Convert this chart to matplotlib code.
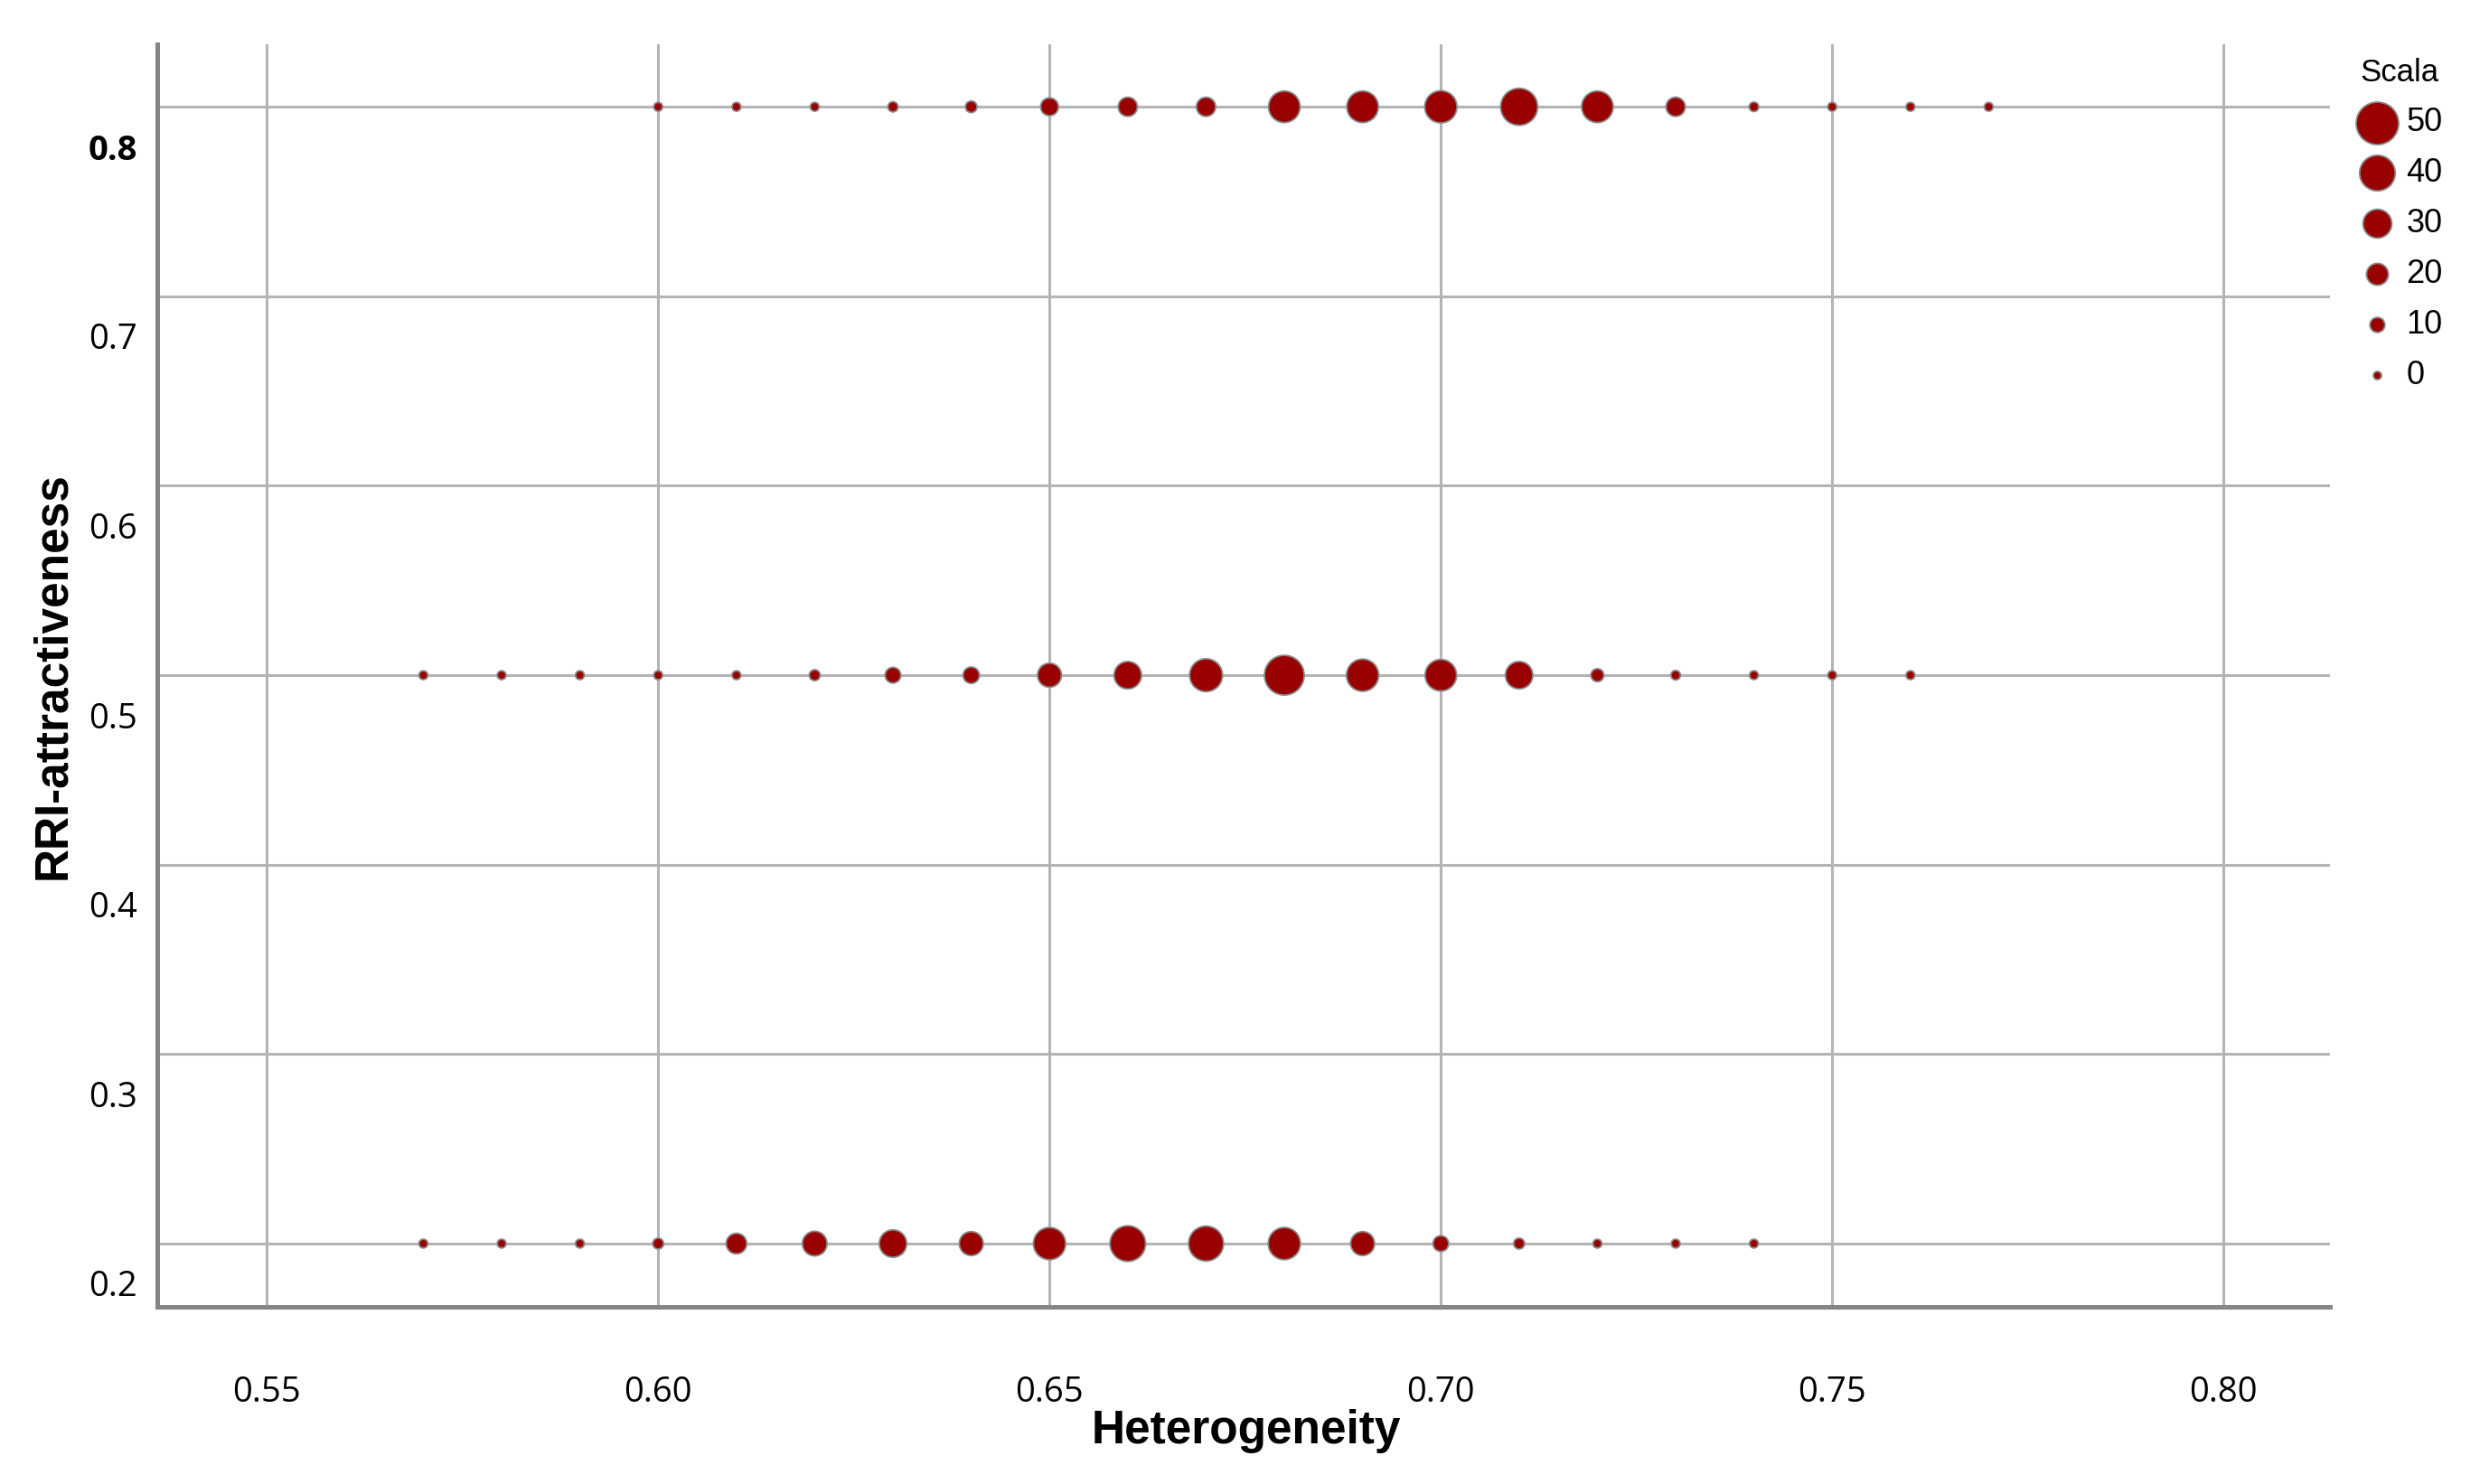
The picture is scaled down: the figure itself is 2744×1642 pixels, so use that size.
import matplotlib
matplotlib.use('Agg')
import matplotlib.pyplot as plt
from matplotlib.transforms import ScaledTranslation

# --- valori (Heterogeneity / Scala) ---
het_top = [0.60, 0.61, 0.62, 0.63, 0.64, 0.65, 0.66, 0.67, 0.68,
           0.69, 0.70, 0.71, 0.72, 0.73, 0.74, 0.75, 0.76, 0.77]
scala_top = [1, 1, 1, 3, 5, 14, 16, 16, 34, 34, 35, 42, 34, 16, 2, 1, 1, 1]
rri_top = 0.8

het_mid = [0.57, 0.58, 0.59, 0.60, 0.61, 0.62, 0.63, 0.64, 0.65, 0.66,
           0.67, 0.68, 0.69, 0.70, 0.71, 0.72, 0.73, 0.74, 0.75, 0.76]
scala_mid = [1, 1, 1, 1, 1, 4, 11, 12, 23, 28, 36, 46, 35, 34, 28, 7, 2, 1, 1, 1]
rri_mid = 0.5

het_bot = [0.57, 0.58, 0.59, 0.60, 0.61, 0.62, 0.63, 0.64, 0.65,
           0.66, 0.67, 0.68, 0.69, 0.70, 0.71, 0.72, 0.73, 0.74]
scala_bot = [1, 1, 1, 4, 18, 24, 28, 23, 35, 40, 39, 35, 23, 11, 4, 1, 1, 1]
rri_bot = 0.2

x_ticks = [0.55, 0.60, 0.65, 0.70, 0.75, 0.80]
x_labels = ['0.55', '0.60', '0.65', '0.70', '0.75', '0.80']
y_ticks = [0.2, 0.3, 0.4, 0.5, 0.6, 0.7, 0.8]
y_labels = ['0.2', '0.3', '0.4', '0.5', '0.6', '0.7', '0.8']
legend_values = [50, 40, 30, 20, 10, 0]

RED = '#990000'
EDGE = '#8a8a8a'
DPI = 100
W, H = 2744, 1642


def bubble(v):
    # diametro in pixel lineare nel valore -> area in punti^2
    d = (9 + 0.76 * v) * 72 / DPI
    return d ** 2


fig = plt.figure(figsize=(W / DPI, H / DPI), dpi=DPI)
ax = fig.add_axes([174 / W, (H - 1446) / H, (2578 - 174) / W, (1446 - 49) / H])

for het, scala, rri in [(het_top, scala_top, rri_top),
                        (het_mid, scala_mid, rri_mid),
                        (het_bot, scala_bot, rri_bot)]:
    ax.scatter(het, [rri] * len(het), s=[bubble(v) for v in scala],
               c=RED, edgecolors=EDGE, linewidths=1.3, zorder=3)

ax.set_xlim(0.536, 0.8136)
ax.set_ylim(0.1666, 0.833)

ax.set_axisbelow(True)
ax.grid(True, color='#b4b4b4', linewidth=2.2)
for side in ['top', 'right']:
    ax.spines[side].set_visible(False)
for side in ['left', 'bottom']:
    ax.spines[side].set_color('#858585')
    ax.spines[side].set_linewidth(3.6)

ax.set_xticks(x_ticks)
ax.set_xticklabels(x_labels, fontfamily='Open Sans', fontsize=27.5)
ax.set_yticks(y_ticks)
ax.set_yticklabels(y_labels, fontfamily='Open Sans', fontsize=27.5)
ax.tick_params(axis='both', length=0)
ax.tick_params(axis='x', pad=55)
ax.tick_params(axis='y', pad=16)

# le etichette dell'asse y sono spostate sotto le linee della griglia
shift = ScaledTranslation(0, -44 / DPI, fig.dpi_scale_trans)
for lab in ax.get_yticklabels():
    lab.set_transform(lab.get_transform() + shift)
    if lab.get_text() == '0.8':
        lab.set_fontweight('bold')

ax.set_xlabel('Heterogeneity', fontfamily='Liberation Sans', fontweight='bold', fontsize=37)
ax.xaxis.set_label_coords(0.501, -0.081)
ax.set_ylabel('RRI-attractiveness', fontfamily='Liberation Sans', fontweight='bold', fontsize=37)
ax.yaxis.set_label_coords(-0.038, 0.5)

handles = [ax.scatter([], [], s=bubble(v), c=RED, edgecolors=EDGE, linewidths=1.3)
           for v in legend_values]
leg = fig.legend(handles, [str(v) for v in legend_values], title='Scala',
                 loc='upper left', bbox_to_anchor=(2590 / W, 1 - 46 / H),
                 frameon=False, scatterpoints=1, handletextpad=0.3,
                 labelspacing=0.58, borderpad=0, handlelength=1.2,
                 prop={'family': 'Liberation Sans', 'size': 26},
                 title_fontproperties={'family': 'Liberation Sans', 'size': 25})

fig.savefig('out.png', dpi=DPI, facecolor='white')
